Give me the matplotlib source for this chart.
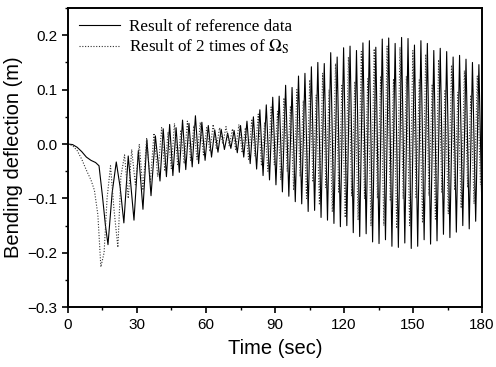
import numpy as np
import matplotlib
matplotlib.use("Agg")
import matplotlib.pyplot as plt
from matplotlib.ticker import MultipleLocator

# ---- data ----
# reference data (solid): early transient, then alternating peaks/troughs
ref_t_early = [0, 2, 4, 6, 8, 10, 12, 13.5, 15, 16.3, 17.4, 19.2, 21, 22.7, 24.3,
               26.2, 28.7, 30.6, 32.6, 34.3, 36.1, 38.0]
ref_v_early = [0, -0.001, -0.006, -0.014, -0.024, -0.03, -0.034, -0.04, -0.096, -0.15,
               -0.185, -0.09, -0.033, -0.08, -0.145, -0.022, -0.14, -0.012, -0.12,
               0.008, -0.095, 0.015]
ref_t_osc = np.arange(40.0, 180.01, 1.4)
ref_v_osc = [-0.068, 0.028, -0.060, 0.036, -0.058, 0.030, -0.052, 0.044, -0.047, 0.038,
             -0.042, 0.052, -0.036, 0.040, -0.030, 0.034, -0.024, 0.026, -0.015, 0.027,
             -0.010, 0.020, -0.008, 0.025, -0.016, 0.034, -0.024, 0.042, -0.036, 0.050,
             -0.046, 0.063, -0.058, 0.072, -0.066, 0.086, -0.075, 0.088, -0.088, 0.108,
             -0.096, 0.104, -0.106, 0.125, -0.110, 0.130, -0.124, 0.142, -0.122, 0.150,
             -0.135, 0.148, -0.140, 0.168, -0.146, 0.160, -0.152, 0.177, -0.150, 0.180,
             -0.163, 0.172, -0.170, 0.186, -0.165, 0.190, -0.180, 0.178, -0.183, 0.193,
             -0.176, 0.195, -0.188, 0.185, -0.190, 0.196, -0.182, 0.194, -0.192, 0.182,
             -0.188, 0.190, -0.176, 0.185, -0.184, 0.172, -0.178, 0.176, -0.166, 0.170,
             -0.172, 0.160, -0.162, 0.163, -0.150, 0.156, -0.156, 0.150, -0.142, 0.146,
             -0.140]

# 2 times of Omega_S (dotted)
dbl_t_early = [0, 2, 4, 6, 8, 10, 11.5, 13, 14.3, 15.7, 17, 18.5, 20, 21.7, 23, 24.6,
               26.2, 27.7, 29.3, 31, 32.6, 34.2, 35.8, 37.4, 39.0]
dbl_v_early = [0, -0.003, -0.012, -0.028, -0.048, -0.066, -0.085, -0.13, -0.226, -0.2,
               -0.1, -0.04, -0.12, -0.19, -0.06, -0.02, -0.1, -0.01, -0.075, 0.0,
               -0.085, 0.01, -0.07, 0.02, -0.06]
dbl_t_osc = np.arange(40.7, 179.4, 1.4)
dbl_v_osc = [0.030, -0.050, 0.022, -0.045, 0.038, -0.040, 0.026, -0.036, 0.042, -0.030,
             0.034, -0.028, 0.040, -0.020, 0.030, -0.014, 0.036, -0.008, 0.030, 0.000,
             0.032, -0.004, 0.028, -0.010, 0.036, -0.016, 0.030, -0.028, 0.046, -0.022,
             0.055, -0.040, 0.040, -0.050, 0.068, -0.038, 0.060, -0.066, 0.085, -0.050,
             0.070, -0.085, 0.100, -0.060, 0.080, -0.100, 0.118, -0.070, 0.090, -0.112,
             0.130, -0.080, 0.100, -0.125, 0.148, -0.090, 0.110, -0.135, 0.160, -0.095,
             0.115, -0.140, 0.170, -0.100, 0.120, -0.150, 0.175, -0.100, 0.125, -0.150,
             0.180, -0.105, 0.120, -0.155, 0.178, -0.100, 0.125, -0.150, 0.172, -0.100,
             0.118, -0.145, 0.165, -0.095, 0.110, -0.138, 0.155, -0.090, 0.100, -0.128,
             0.145, -0.085, 0.095, -0.118, 0.135, -0.080, 0.090, -0.110, 0.125, -0.075]

ref_t = np.concatenate([ref_t_early, ref_t_osc])
ref_v = np.concatenate([ref_v_early, ref_v_osc])
dbl_t = np.concatenate([dbl_t_early, dbl_t_osc])
dbl_v = np.concatenate([dbl_v_early, dbl_v_osc])

plt.rcParams['font.family'] = ['Liberation Sans', 'DejaVu Sans']
plt.rcParams['mathtext.fontset'] = 'stix'

fig = plt.figure(figsize=(4.96, 3.67), dpi=100)
ax = fig.add_axes([0.137, 0.163, 0.835, 0.815])

ax.plot(ref_t, ref_v, color='black', lw=0.8, label='Result of reference data')
ax.plot(dbl_t, dbl_v, color='#333333', lw=0.8, linestyle=(0, (1, 1.5)),
        label=r'Result of 2 times of $\Omega_{\rm S}$')

ax.set_xlim(0, 180)
ax.set_ylim(-0.3, 0.25)
ax.set_xticks(np.arange(0, 181, 30))
ax.set_yticks([-0.3, -0.2, -0.1, 0.0, 0.1, 0.2])
ax.xaxis.set_minor_locator(MultipleLocator(15))
ax.yaxis.set_minor_locator(MultipleLocator(0.05))
ax.tick_params(which='major', direction='out', length=4, width=1.2, labelsize=11,
               top=False, right=False)
ax.tick_params(which='minor', direction='out', length=2.5, width=1.0,
               top=False, right=False)
for s in ax.spines.values():
    s.set_linewidth(1.4)

ax.set_xlabel('Time (sec)', fontsize=14.5, labelpad=5)
ax.set_ylabel('Bending deflection (m)', fontsize=14.5, labelpad=3)

leg = ax.legend(loc='upper left', bbox_to_anchor=(0.0, 1.0), frameon=False,
                prop={'family': 'Liberation Serif', 'size': 12.3},
                handlelength=2.4, handletextpad=0.5, labelspacing=0.15,
                borderaxespad=0.25)

fig.savefig('out.png', dpi=100)
